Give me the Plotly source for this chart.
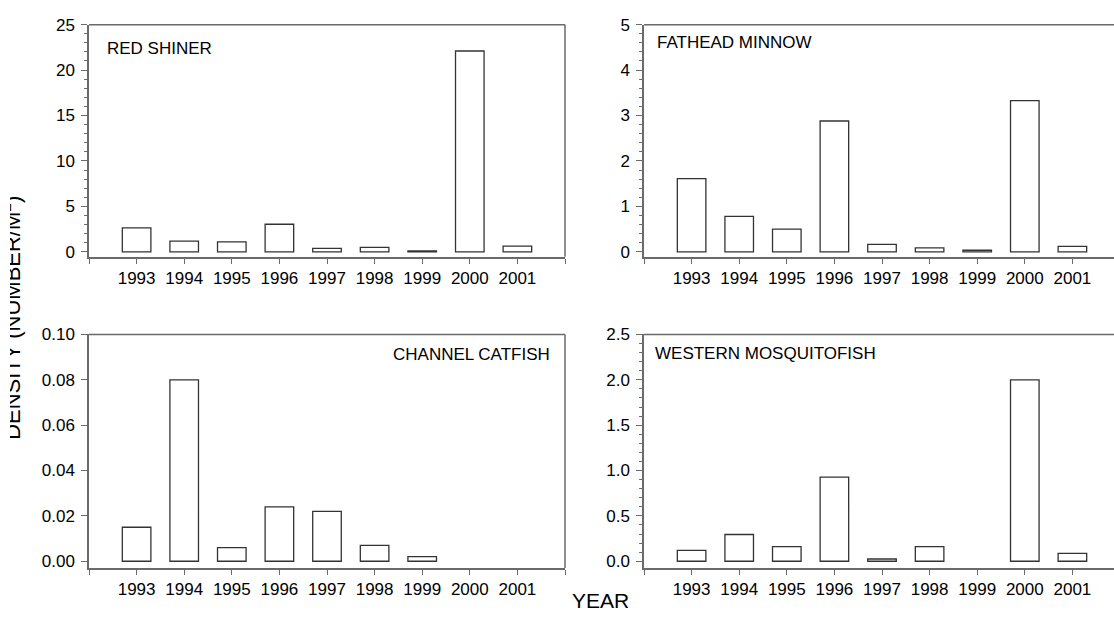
import plotly.graph_objects as go

# density (number / m^2) per year
years = [1993, 1994, 1995, 1996, 1997, 1998, 1999, 2000, 2001]
red_shiner = [2.65, 1.18, 1.11, 3.04, 0.39, 0.50, 0.10, 22.1, 0.64]
fathead_minnow = [1.61, 0.78, 0.50, 2.88, 0.165, 0.086, 0.036, 3.33, 0.12]
channel_catfish = [0.015, 0.080, 0.006, 0.024, 0.022, 0.007, 0.002, None, None]
western_mosquitofish = [0.12, 0.295, 0.162, 0.927, 0.025, 0.162, None, 2.0, 0.086]

W, H = 1114, 619
FONT = "Liberation Sans, Arial, sans-serif"
AXIS_COL = "#6a6a6a"
BAR_LINE = "#333333"


def px(x):
    return x / W


def py(y):
    return 1 - y / H


# (title, values, y top, major dtick, minor dtick, tickformat, offset frac)
panels = [
    ("RED SHINER", red_shiner, 25, 5, 1, "d", 0.0215),
    ("FATHEAD MINNOW", fathead_minnow, 5, 1, 0.2, "d", 0.0215),
    ("CHANNEL CATFISH", channel_catfish, 0.10, 0.02, None, ".2f", 0.03),
    ("WESTERN MOSQUITOFISH", western_mosquitofish, 2.5, 0.5, 0.1, ".1f", 0.03),
]

x_domains = [[px(89), px(565)], [px(644), 1.0]]
y_domains = [[py(253.5), py(16)], [py(572), py(333)]]
unit = 476 / 10.0  # px per year on the x axis

fig = go.Figure()
layout = dict(
    width=W, height=H,
    margin=dict(l=0, r=0, t=0, b=0),
    paper_bgcolor="white", plot_bgcolor="white",
    showlegend=False,
    font=dict(family=FONT, size=17, color="black"),
)

shapes = []
for i, (title, vals, top, dt, mdt, fmt, off) in enumerate(panels):
    row, col = divmod(i, 2)
    n = "" if i == 0 else str(i + 1)
    fig.add_trace(go.Bar(
        x=years, y=vals, width=0.6,
        marker=dict(color="white", line=dict(color=BAR_LINE, width=1.3)),
        xaxis="x" + n, yaxis="y" + n,
    ))
    xw = (x_domains[col][1] - x_domains[col][0]) * W
    xr = [1992, 1992 + xw / unit]
    layout["xaxis" + n] = dict(
        domain=x_domains[col], range=xr, anchor="y" + n,
        tickvals=[1992] + years + [2002],
        ticktext=[""] + [str(y) for y in years] + [""],
        ticks="outside", ticklen=5, tickwidth=1.2, tickcolor=AXIS_COL,
        showline=True, linecolor=AXIS_COL, linewidth=1.5,
        showgrid=False, zeroline=False, fixedrange=True,
    )
    ydict = dict(
        domain=y_domains[row], range=[-top * off, top], anchor="x" + n,
        tick0=0, dtick=dt, tickformat=fmt,
        ticks="outside", ticklen=6, tickwidth=1.2, tickcolor=AXIS_COL,
        ticklabelstandoff=3,
        showline=True, linecolor=AXIS_COL, linewidth=1.5,
        showgrid=False, zeroline=False, fixedrange=True,
    )
    if mdt:
        ydict["minor"] = dict(ticks="outside", ticklen=3, tickwidth=1,
                              tickcolor=AXIS_COL, dtick=mdt, tick0=0,
                              showgrid=False)
    layout["yaxis" + n] = ydict

    # top border (and right border for the left column)
    shapes.append(dict(type="line", xref="x" + n + " domain", yref="y" + n + " domain",
                       x0=0, x1=1, y0=1, y1=1,
                       line=dict(color=AXIS_COL, width=1.5)))
    if col == 0:
        shapes.append(dict(type="line", xref="x" + n + " domain", yref="y" + n + " domain",
                           x0=1, x1=1, y0=0, y1=1,
                           line=dict(color=AXIS_COL, width=1.5)))

layout["shapes"] = shapes

annotations = [
    dict(text="RED SHINER", x=px(105), y=py(40), xanchor="left", yanchor="middle"),
    dict(text="FATHEAD MINNOW", x=px(655), y=py(34), xanchor="left", yanchor="middle"),
    dict(text="CHANNEL CATFISH", x=px(552), y=py(353), xanchor="right", yanchor="middle"),
    dict(text="WESTERN MOSQUITOFISH", x=px(653), y=py(352), xanchor="left", yanchor="middle"),
    dict(text="YEAR", x=px(600), y=py(605), xanchor="center", yanchor="middle",
         font=dict(size=21)),
    dict(text="DENSITY (NUMBER/M<sup>2</sup>)", x=px(11), y=py(316), textangle=-90,
         xanchor="center", yanchor="middle", font=dict(size=22)),
    # the reference image is cropped through the axis label
    dict(text=" ", x=0, y=py(316), xanchor="left", yanchor="middle",
         width=10, height=330, bgcolor="white", borderpad=0, borderwidth=0),
]
for a in annotations:
    a.setdefault("xref", "paper")
    a.setdefault("yref", "paper")
    a.setdefault("showarrow", False)
    a.setdefault("font", dict(size=17))
layout["annotations"] = annotations

fig.update_layout(**layout)
fig.write_html("out.html", config={"displayModeBar": False},
               post_script="document.body.style.margin='0';"
                           "document.body.style.overflow='hidden';")
